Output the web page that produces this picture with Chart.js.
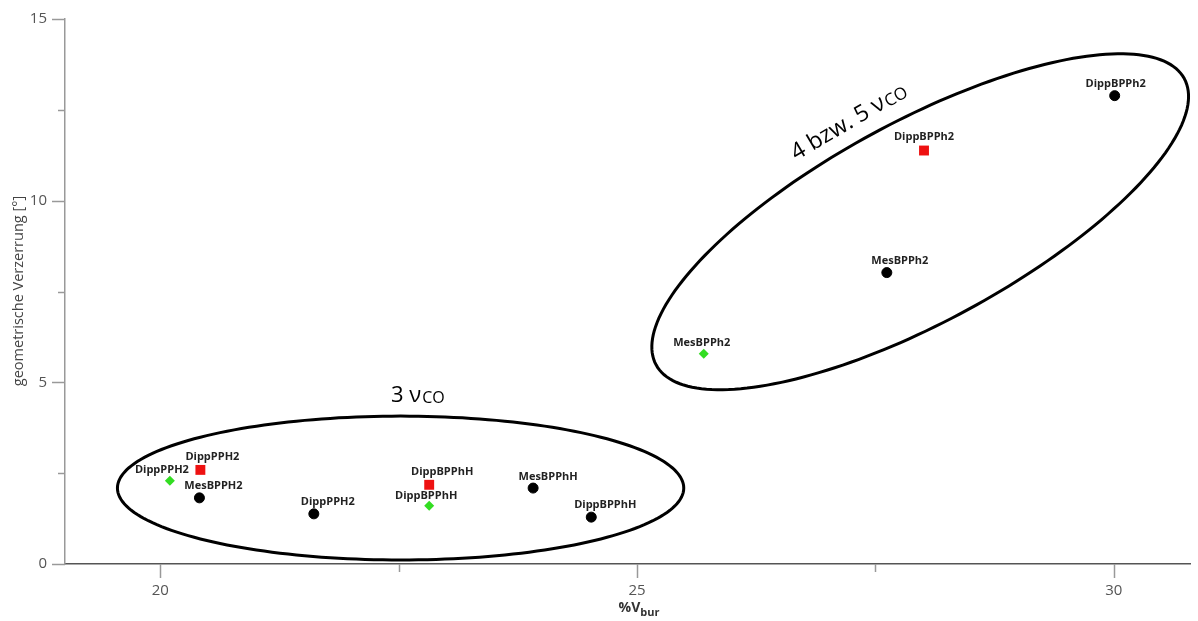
<!DOCTYPE html>
<html>
<head>
<meta charset="utf-8">
<script src="https://cdn.jsdelivr.net/npm/chart.js@4/dist/chart.umd.min.js"></script>
<style>
  html, body { margin: 0; padding: 0; background: #fff; }
  #wrap { width: 1198px; height: 621px; position: relative; }
</style>
</head>
<body>
<div id="wrap"><canvas id="myChart"></canvas></div>
<script>
// data
const blackNames = ['MesBPPH2', 'DippPPH2', 'MesBPPhH', 'DippBPPhH', 'MesBPPh2', 'DippBPPh2'];
const blackX = [20.41, 21.61, 23.91, 24.52, 27.62, 30.01];
const blackY = [1.82, 1.38, 2.09, 1.29, 8.02, 12.89];

const redNames = ['DippPPH2', 'DippBPPhH', 'DippBPPh2'];
const redX = [20.42, 22.82, 28.01];
const redY = [2.59, 2.18, 11.38];

const greenNames = ['DippPPH2', 'DippBPPhH', 'MesBPPh2'];
const greenX = [20.10, 22.82, 25.70];
const greenY = [2.29, 1.60, 5.79];

const xMajorTicks = [20, 25, 30];
const yMajorTicks = [0, 5, 10, 15];

// groups drawn as ellipses (centre + two semi-axis vectors, in data units)
const groupCentres = [[22.52, 2.09], [27.97, 9.42]];
const groupAxisA = [[2.97, 0], [2.77, 3.94]];
const groupAxisB = [[0, 1.98], [0.5, -2.42]];

const toPoints = (xs, ys) => xs.map((x, i) => ({ x: x, y: ys[i] }));

// label nudges (pixels) per dataset / point
const labelShift = [
  [[14, -12], [14, -12], [15, -11], [14, -12], [13, -12], [1, -12]],
  [[12, -13], [13, -13], [0, -14]],
  [[-8, -11], [-3, -10], [-2, -11]]
];

const groupText = {
  id: 'groupText',
  afterDatasetsDraw(chart) {
    const ctx = chart.ctx;
    const xs = chart.scales.x, ys = chart.scales.y;

    // ellipses
    ctx.save();
    ctx.strokeStyle = '#000';
    ctx.lineWidth = 3;
    groupCentres.forEach((c, k) => {
      const a = groupAxisA[k], b = groupAxisB[k];
      ctx.beginPath();
      for (let i = 0; i <= 200; i++) {
        const t = i / 200 * Math.PI * 2;
        const px = xs.getPixelForValue(c[0] + a[0] * Math.cos(t) + b[0] * Math.sin(t));
        const py = ys.getPixelForValue(c[1] + a[1] * Math.cos(t) + b[1] * Math.sin(t));
        if (i === 0) ctx.moveTo(px, py); else ctx.lineTo(px, py);
      }
      ctx.closePath();
      ctx.stroke();
    });
    ctx.restore();

    // point labels
    ctx.save();
    ctx.font = 'bold 11px "Open Sans"';
    ctx.fillStyle = '#222';
    ctx.textAlign = 'center';
    ctx.textBaseline = 'middle';
    const names = [blackNames, redNames, greenNames];
    chart.data.datasets.forEach((ds, d) => {
      const meta = chart.getDatasetMeta(d);
      meta.data.forEach((el, i) => {
        const s = labelShift[d][i];
        ctx.fillText(names[d][i], el.x + s[0], el.y + s[1]);
      });
    });
    ctx.restore();

    // group captions
    ctx.save();
    ctx.fillStyle = '#000';
    ctx.textBaseline = 'alphabetic';
    ctx.textAlign = 'left';
    let x0 = xs.getPixelForValue(22.42), y0 = ys.getPixelForValue(4.46);
    ctx.font = '22px "Open Sans"';
    ctx.fillText('3 ν', x0, y0);
    let w = ctx.measureText('3 ν').width;
    ctx.font = '16px "Open Sans"';
    ctx.fillText('CO', x0 + w + 1, y0 + 1);

    x0 = xs.getPixelForValue(26.67); y0 = ys.getPixelForValue(11.1);
    ctx.translate(x0, y0);
    ctx.rotate(-30.5 * Math.PI / 180);
    ctx.font = '23px "Open Sans"';
    ctx.fillText('4 bzw. 5 ν', 0, 0);
    w = ctx.measureText('4 bzw. 5 ν').width;
    ctx.font = '17px "Open Sans"';
    ctx.fillText('CO', w + 1, 1);
    ctx.restore();
  },
  afterDraw(chart) {
    const ctx = chart.ctx;
    const xs = chart.scales.x, ys = chart.scales.y;
    const area = chart.chartArea;
    ctx.save();
    // tick marks
    ctx.strokeStyle = '#999';
    ctx.lineWidth = 1.5;
    for (let v = 20; v <= 30; v += 2.5) {
      const px = Math.round(xs.getPixelForValue(v)) + 0.5;
      const len = xMajorTicks.includes(v) ? 14 : 8;
      ctx.beginPath();
      ctx.moveTo(px, area.bottom);
      ctx.lineTo(px, area.bottom + len);
      ctx.stroke();
    }
    for (let v = 0; v <= 15; v += 2.5) {
      const py = Math.round(ys.getPixelForValue(v)) + 0.5;
      const len = yMajorTicks.includes(v) ? 13 : 7;
      ctx.beginPath();
      ctx.moveTo(area.left, py);
      ctx.lineTo(area.left - len, py);
      ctx.stroke();
    }
    // axis titles
    ctx.fillStyle = '#444';
    ctx.font = '14.5px "Open Sans"';
    ctx.textAlign = 'center';
    ctx.textBaseline = 'middle';
    ctx.save();
    ctx.translate(19, 291);
    ctx.rotate(-Math.PI / 2);
    ctx.fillText('geometrische Verzerrung [°]', 0, 0);
    ctx.restore();

    ctx.fillStyle = '#333';
    ctx.textAlign = 'left';
    ctx.textBaseline = 'alphabetic';
    ctx.font = 'bold 14px "Open Sans"';
    const t1 = '%V';
    const w1 = ctx.measureText(t1).width;
    ctx.font = 'bold 11px "Open Sans"';
    const w2 = ctx.measureText('bur').width;
    const cx = xs.getPixelForValue(25) + 2 - (w1 + w2) / 2;
    ctx.font = 'bold 14px "Open Sans"';
    ctx.fillText(t1, cx, 612);
    ctx.font = 'bold 11px "Open Sans"';
    ctx.fillText('bur', cx + w1, 616);
    ctx.restore();
  }
};

const data = {
  datasets: [
    {
      label: 'schwarz',
      data: toPoints(blackX, blackY),
      backgroundColor: '#000',
      borderColor: '#000',
      pointStyle: 'circle',
      pointRadius: 5
    },
    {
      label: 'rot',
      data: toPoints(redX, redY),
      backgroundColor: '#ee1111',
      borderColor: '#ee1111',
      pointStyle: 'rect',
      pointRadius: 7,
      borderWidth: 0
    },
    {
      label: 'grün',
      data: toPoints(greenX, greenY),
      backgroundColor: '#33dd22',
      borderColor: '#33dd22',
      pointStyle: 'rectRot',
      pointRadius: 5,
      borderWidth: 0
    }
  ]
};

const config = {
  type: 'scatter',
  data,
  plugins: [groupText],
  options: {
    responsive: false,
    animation: false,
    layout: { padding: { top: 19, right: 8, left: 0, bottom: 0 } },
    plugins: {
      legend: { display: false },
      tooltip: { enabled: false }
    },
    scales: {
      x: {
        type: 'linear',
        min: 19,
        max: 30.8,
        afterFit: s => { s.height = 57; },
        grid: { display: false, drawTicks: true, tickLength: 14 },
        border: { display: true, color: '#555', width: 1.5 },
        ticks: {
          stepSize: 2.5,
          includeBounds: false,
          autoSkip: false,
          maxRotation: 0,
          padding: 4,
          color: '#555',
          font: { family: 'Open Sans', size: 15 },
          callback: v => xMajorTicks.includes(v) ? String(v) : ''
        }
      },
      y: {
        type: 'linear',
        min: 0,
        max: 15,
        afterFit: s => { s.width = 65; },
        grid: { display: false, drawTicks: true, tickLength: 13 },
        border: { display: true, color: '#999', width: 1.5 },
        ticks: {
          stepSize: 2.5,
          includeBounds: false,
          autoSkip: false,
          padding: 5,
          color: '#555',
          font: { family: 'Open Sans', size: 15 },
          callback: v => yMajorTicks.includes(v) ? String(v) : ''
        }
      }
    }
  }
};

const canvas = document.getElementById('myChart');
canvas.width = 1198;
canvas.height = 621;
const myChart = new Chart(canvas, config);
</script>
</body>
</html>
